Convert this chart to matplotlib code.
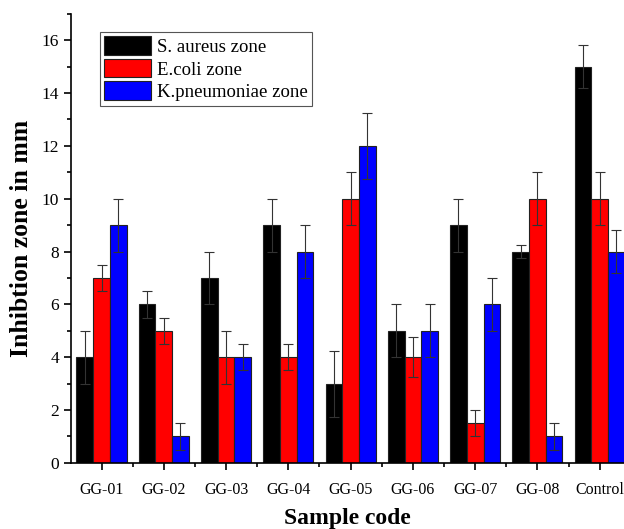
import matplotlib
matplotlib.use("Agg")
import matplotlib.pyplot as plt
import numpy as np
from matplotlib.ticker import MultipleLocator, FixedLocator

samples = ["GG-01", "GG-02", "GG-03", "GG-04", "GG-05", "GG-06", "GG-07", "GG-08", "Control"]
s_aureus = [4, 6, 7, 9, 3, 5, 9, 8, 15]
s_aureus_err = [1, 0.5, 1, 1, 1.25, 1, 1, 0.25, 0.8]
e_coli = [7, 5, 4, 4, 10, 4, 1.5, 10, 10]
e_coli_err = [0.5, 0.5, 1, 0.5, 1, 0.75, 0.5, 1, 1]
k_pneu = [9, 1, 4, 8, 12, 5, 6, 1, 8]
k_pneu_err = [1, 0.5, 0.5, 1, 1.25, 1, 1, 0.5, 0.8]

plt.rcParams['font.family'] = ['Liberation Serif', 'DejaVu Serif']

fig = plt.figure(figsize=(6.24, 5.29), dpi=100)
ax = fig.add_axes([0.1138, 0.125, 0.8862, 0.849])

x = np.arange(len(samples))
w = 0.268
series = [(s_aureus, s_aureus_err, "black", "S. aureus zone"),
          (e_coli, e_coli_err, "red", "E.coli zone"),
          (k_pneu, k_pneu_err, "blue", "K.pneumoniae zone")]
for i, (vals, errs, col, lab) in enumerate(series):
    ax.bar(x + (i - 1) * w, vals, w, color=col, edgecolor="#222222", linewidth=0.8,
           yerr=errs, capsize=3.5, error_kw=dict(ecolor="#333333", elinewidth=0.8, capthick=0.8),
           label=lab)

ax.set_xlim(-0.49, 8.39)
ax.set_ylim(0, 17)
ax.spines['top'].set_visible(False)
ax.spines['right'].set_visible(False)
ax.spines['left'].set_linewidth(1.2)
ax.spines['bottom'].set_linewidth(1.2)

ax.set_xticks(x)
ax.set_xticklabels(samples)
ax.xaxis.set_minor_locator(FixedLocator(x[:-1] + 0.5))
ax.yaxis.set_major_locator(MultipleLocator(2))
ax.yaxis.set_minor_locator(MultipleLocator(1))
ax.tick_params(axis='both', which='major', direction='out', length=5, width=1.2)
ax.tick_params(axis='x', which='major', labelsize=11.5, pad=9)
ax.tick_params(axis='y', which='major', labelsize=12.5)
ax.tick_params(axis='both', which='minor', direction='out', length=3, width=1.2)

ax.set_ylabel("Inhibtion zone in mm", fontsize=18.5, fontweight="bold", labelpad=6)
ax.set_xlabel("Sample code", fontsize=17, fontweight="bold", labelpad=7)

leg = ax.legend(loc="upper left", bbox_to_anchor=(0.052, 0.96), fontsize=13.5,
                fancybox=False, edgecolor="#555555", framealpha=1,
                handlelength=2.5, handleheight=1.15, handletextpad=0.3,
                labelspacing=0.15, borderpad=0.25, borderaxespad=0)
leg.get_frame().set_linewidth(0.8)

fig.savefig("out.png", dpi=100)
